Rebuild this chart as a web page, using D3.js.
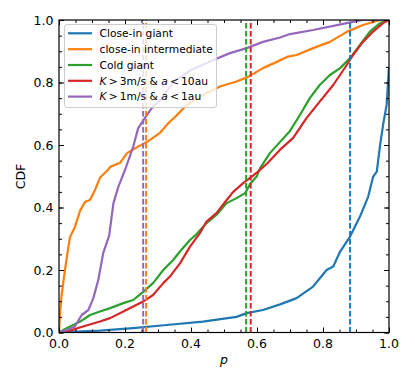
<!DOCTYPE html>
<html><head><meta charset="utf-8">
<script src="https://cdn.jsdelivr.net/npm/d3@7"></script>
<style>body{margin:0;background:#fff}svg{display:block}text{font-family:"DejaVu Sans",sans-serif}</style>
</head><body>
<svg id="c" width="415" height="386"></svg>
<script>
const seriesNames = ["Close-in giant","close-in intermediate","Cold giant","K3","K1"];
const seriesColors = ["#1f77b4","#ff7f0e","#2ca02c","#d62728","#9467bd"];

const closeGiantP = [0,0.054,0.124,0.225,0.326,0.436,0.538,0.569,0.618,0.67,0.72,0.77,0.811,0.831,0.852,0.882,0.912,0.937,0.952,0.963,0.973,0.983,0.993,1.0];
const closeGiantC = [0,0.003,0.006,0.014,0.024,0.035,0.05,0.062,0.072,0.09,0.11,0.147,0.2,0.211,0.259,0.307,0.371,0.435,0.499,0.515,0.6,0.67,0.73,0.85];

const closeInterP = [0,0.003,0.008,0.018,0.033,0.048,0.064,0.079,0.094,0.109,0.124,0.148,0.155,0.185,0.206,0.236,0.267,0.306,0.336,0.352,0.387,0.436,0.488,0.538,0.573,0.618,0.66,0.694,0.72,0.77,0.821,0.872,0.921,0.973,1.0];
const closeInterC = [0,0.06,0.12,0.2,0.305,0.337,0.39,0.418,0.424,0.456,0.495,0.52,0.53,0.543,0.574,0.593,0.61,0.639,0.675,0.69,0.728,0.76,0.787,0.803,0.818,0.846,0.866,0.883,0.888,0.91,0.93,0.962,0.984,1.0,1.0];

const coldGiantP = [0,0.023,0.064,0.094,0.124,0.155,0.195,0.225,0.255,0.285,0.316,0.346,0.367,0.397,0.417,0.447,0.477,0.508,0.538,0.564,0.579,0.599,0.609,0.639,0.67,0.7,0.73,0.76,0.79,0.821,0.852,0.882,0.912,0.942,0.973,1.0];
const coldGiantC = [0,0.014,0.035,0.056,0.067,0.078,0.094,0.104,0.13,0.158,0.2,0.232,0.26,0.296,0.315,0.35,0.376,0.414,0.43,0.446,0.475,0.499,0.525,0.574,0.61,0.645,0.696,0.75,0.792,0.824,0.846,0.878,0.92,0.963,0.99,1.0];

const k3P = [0,0.033,0.073,0.124,0.155,0.195,0.225,0.255,0.285,0.316,0.336,0.367,0.397,0.427,0.447,0.477,0.508,0.528,0.558,0.584,0.603,0.63,0.67,0.709,0.75,0.79,0.831,0.872,0.891,0.921,0.952,0.982,1.0];
const k3C = [0,0.006,0.019,0.035,0.046,0.067,0.083,0.099,0.12,0.158,0.179,0.222,0.275,0.318,0.355,0.382,0.424,0.45,0.478,0.499,0.515,0.54,0.585,0.622,0.686,0.739,0.792,0.856,0.888,0.93,0.963,0.99,1.0];

const k1P = [0,0.023,0.048,0.054,0.069,0.089,0.104,0.119,0.134,0.152,0.165,0.18,0.2,0.225,0.24,0.26,0.281,0.311,0.35,0.40,0.468,0.518,0.569,0.618,0.67,0.7,0.77,0.872,0.92,1.0];
const k1C = [0,0.008,0.019,0.03,0.056,0.072,0.11,0.168,0.254,0.31,0.414,0.467,0.52,0.595,0.654,0.686,0.718,0.75,0.805,0.84,0.872,0.894,0.91,0.93,0.944,0.955,0.968,0.99,1.0,1.0];

const medians = [0.882,0.264,0.567,0.581,0.255];
const xTicks = [0,0.2,0.4,0.6,0.8,1.0];
const yTicks = [0,0.2,0.4,0.6,0.8,1.0];

const seriesP = [closeGiantP, closeInterP, coldGiantP, k3P, k1P];
const seriesC = [closeGiantC, closeInterC, coldGiantC, k3C, k1C];

const svg = d3.select("#c");
const X0=59, X1=389, Y0=332.5, Y1=20;
const x = d3.scaleLinear().domain([0,1]).range([X0,X1]);
const y = d3.scaleLinear().domain([0,1]).range([Y0,Y1]);

svg.append("clipPath").attr("id","clip").append("rect")
  .attr("x",X0).attr("y",Y1).attr("width",X1-X0).attr("height",Y0-Y1);

const plot = svg.append("g").attr("clip-path","url(#clip)");
const line = d3.line().x(d=>x(d[0])).y(d=>y(d[1]));
seriesP.forEach((ps,i)=>{
  const pts = ps.map((p,j)=>[p, seriesC[i][j]]);
  plot.append("path").attr("d",line(pts)).attr("fill","none")
    .attr("stroke",seriesColors[i]).attr("stroke-width",2.2).attr("stroke-linejoin","round");
});
medians.forEach((m,i)=>{
  plot.append("line").attr("x1",x(m)).attr("x2",x(m)).attr("y1",Y0).attr("y2",Y1)
    .attr("stroke",seriesColors[i]).attr("stroke-width",2).attr("stroke-dasharray","5.5,2.5");
});

// axes (inward ticks on all sides)
const minor = d3.range(0,1.0001,0.05);
function ticks(g, axisGen){ g.call(axisGen); g.select(".domain").remove(); g.selectAll("text").remove(); g.selectAll("line").attr("stroke","#000").attr("stroke-width",1); }
const bottomMaj = svg.append("g").attr("transform",`translate(0,${Y0})`);
ticks(bottomMaj, d3.axisBottom(x).tickValues(xTicks).tickSize(-5));
const bottomMin = svg.append("g").attr("transform",`translate(0,${Y0})`);
ticks(bottomMin, d3.axisBottom(x).tickValues(minor).tickSize(-3));
const topMaj = svg.append("g").attr("transform",`translate(0,${Y1})`);
ticks(topMaj, d3.axisTop(x).tickValues(xTicks).tickSize(-5));
const topMin = svg.append("g").attr("transform",`translate(0,${Y1})`);
ticks(topMin, d3.axisTop(x).tickValues(minor).tickSize(-3));
const leftMaj = svg.append("g").attr("transform",`translate(${X0},0)`);
ticks(leftMaj, d3.axisLeft(y).tickValues(yTicks).tickSize(-5));
const leftMin = svg.append("g").attr("transform",`translate(${X0},0)`);
ticks(leftMin, d3.axisLeft(y).tickValues(minor).tickSize(-3));
const rightMaj = svg.append("g").attr("transform",`translate(${X1},0)`);
ticks(rightMaj, d3.axisRight(y).tickValues(yTicks).tickSize(-5));
const rightMin = svg.append("g").attr("transform",`translate(${X1},0)`);
ticks(rightMin, d3.axisRight(y).tickValues(minor).tickSize(-3));

svg.append("rect").attr("x",X0).attr("y",Y1).attr("width",X1-X0).attr("height",Y0-Y1)
  .attr("fill","none").attr("stroke","#000").attr("stroke-width",1.2);

const fmt = d3.format(".1f");
xTicks.forEach(t=>svg.append("text").attr("x",x(t)).attr("y",348).attr("text-anchor","middle")
  .attr("font-size",12.5).text(fmt(t)));
yTicks.forEach(t=>svg.append("text").attr("x",53.5).attr("y",y(t)+4.5).attr("text-anchor","end")
  .attr("font-size",12.5).text(fmt(t)));

svg.append("text").attr("transform","translate(25,176.5) rotate(-90)").attr("text-anchor","middle")
  .attr("font-size",12.5).text("CDF");
svg.append("text").attr("x",224).attr("y",364).attr("text-anchor","middle")
  .attr("font-size",12.5).attr("font-style","italic").text("p");

// legend
const lg = svg.append("g");
lg.append("rect").attr("x",64.5).attr("y",24.5).attr("width",152).attr("height",83).attr("rx",2.5)
  .attr("fill","#fff").attr("fill-opacity",0.8).attr("stroke","#ccc").attr("stroke-width",1);
const rows = [33.3,49.2,65,80.8,96.6];
seriesNames.forEach((n,i)=>{
  lg.append("line").attr("x1",68).attr("x2",92).attr("y1",rows[i]).attr("y2",rows[i])
    .attr("stroke",seriesColors[i]).attr("stroke-width",2.2);
  const t = lg.append("text").attr("x",99.5).attr("y",rows[i]+3.8).attr("font-size",10.7);
  if(n==="K3"||n==="K1"){
    t.append("tspan").attr("font-style","italic").text("K");
    t.append("tspan").text(n==="K3" ? "\u2009>\u20093m/s & " : "\u2009>\u20091m/s & ");
    t.append("tspan").attr("font-style","italic").text("a");
    t.append("tspan").text(n==="K3" ? "\u2009<\u200910au" : "\u2009<\u20091au");
  } else t.text(n);
});
</script>
</body></html>
